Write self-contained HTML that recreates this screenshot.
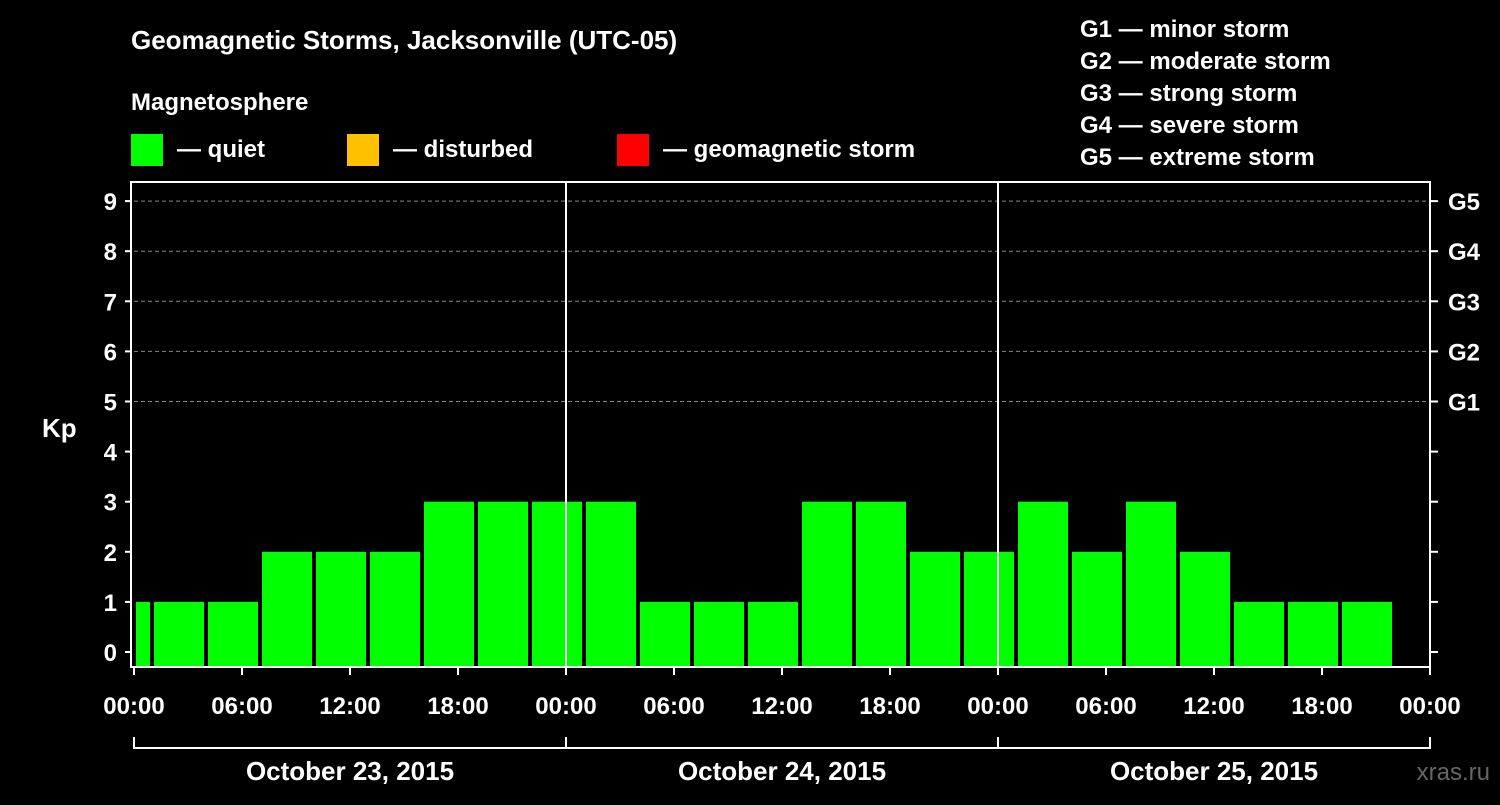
<!DOCTYPE html>
<html><head><meta charset="utf-8"><style>
body{margin:0;background:#000;width:1500px;height:800px;overflow:hidden}
svg text{font-family:"Liberation Sans",Arial,sans-serif;font-weight:bold;fill:#fff}
</style></head><body>
<svg id="chart" width="1500" height="800" xmlns="http://www.w3.org/2000/svg">
<text x="131" y="49" font-size="26">Geomagnetic Storms, Jacksonville (UTC-05)</text>
<text x="131" y="110" font-size="24">Magnetosphere</text>
<g><rect x="131" y="134" width="32" height="32" fill="#00ff00"/><text x="177" y="157" font-size="24">— quiet</text></g>
<g><rect x="347" y="134" width="32" height="32" fill="#ffc000"/><text x="393" y="157" font-size="24">— disturbed</text></g>
<g><rect x="617" y="134" width="32" height="32" fill="#ff0000"/><text x="663" y="157" font-size="24">— geomagnetic storm</text></g>
<g font-size="24">
<text x="1080" y="37">G1 — minor storm</text><text x="1080" y="69">G2 — moderate storm</text><text x="1080" y="101">G3 — strong storm</text><text x="1080" y="133">G4 — severe storm</text><text x="1080" y="165">G5 — extreme storm</text></g>
<text x="42" y="437" font-size="26">Kp</text>
<text x="1490" y="780" font-size="24" fill="#555" style="fill:#666;font-weight:normal" text-anchor="end">xras.ru</text>
<g id="plot"></g>
</svg>
<script>
const startHours=[-2,1,4,7,10,13,16,19,22,25,28,31,34,37,40,43,46,49,52,55,58,61,64,67];
const kpValues=[1,1,1,2,2,2,3,3,3,3,1,1,1,3,3,2,2,3,2,3,2,1,1,1];
const yTicks=[0,1,2,3,4,5,6,7,8,9];
const gLabels={5:"G1",6:"G2",7:"G3",8:"G4",9:"G5"};
const xTickLabels=["00:00","06:00","12:00","18:00","00:00","06:00","12:00","18:00","00:00","06:00","12:00","18:00","00:00"];
const dayLabels=["October 23, 2015","October 24, 2015","October 25, 2015"];
const X0=134,X1=1430,PT=182,PB=667;
const x=h=>X0+(X1-X0)*h/72;
const y=v=>652-v*50.1;
const NS="http://www.w3.org/2000/svg";
const g=document.getElementById('plot');
function mk(t,a,p){const e=document.createElementNS(NS,t);for(const k in a)e.setAttribute(k,a[k]);(p||g).appendChild(e);return e;}
yTicks.forEach(v=>{if(v>=5){const l=mk('line',{x1:X0,x2:X1,y1:y(v),y2:y(v),stroke:'#888','stroke-dasharray':'4,3','stroke-width':1});

}});
startHours.forEach((s,i)=>{const a=Math.max(s,0),b=s+3;const r=mk('rect',{x:x(a)+2,y:y(kpValues[i]),width:x(b)-x(a)-4,height:PB-y(kpValues[i]),fill:'#00ff00'});

});
[24,48].forEach(h=>{const l=mk('line',{x1:x(h),x2:x(h),y1:PT,y2:PB,stroke:'#fff','stroke-width':2});

});
const fr=mk('rect',{x:X0-3,y:PT,width:X1-X0+3,height:PB-PT,fill:'none',stroke:'#fff','stroke-width':2});


yTicks.forEach(v=>{mk('line',{x1:X0-9,x2:X0-3,y1:y(v),y2:y(v),stroke:'#fff','stroke-width':2});mk('line',{x1:X1,x2:X1+8,y1:y(v),y2:y(v),stroke:'#fff','stroke-width':2});
const t=mk('text',{x:117,y:y(v)+9,'font-size':24,'text-anchor':'end'});t.textContent=v;


if(gLabels[v]){const t2=mk('text',{x:1448,y:y(v)+9,'font-size':24});t2.textContent=gLabels[v];

}});
xTickLabels.forEach((s,i)=>{const xx=x(i*6);mk('line',{x1:xx,x2:xx,y1:PB,y2:PB+8,stroke:'#fff','stroke-width':2});
const t=mk('text',{x:xx,y:714,'font-size':24,'text-anchor':'middle'});t.textContent=s;

});
mk('path',{d:`M${X0} 737V748H${X1}V737M${x(24)} 737V748M${x(48)} 737V748`,stroke:'#fff','stroke-width':2,fill:'none'});
dayLabels.forEach((s,i)=>{const t=mk('text',{x:x(i*24+12),y:780,'font-size':26,'text-anchor':'middle'});t.textContent=s;

});
</script>
</body></html>
